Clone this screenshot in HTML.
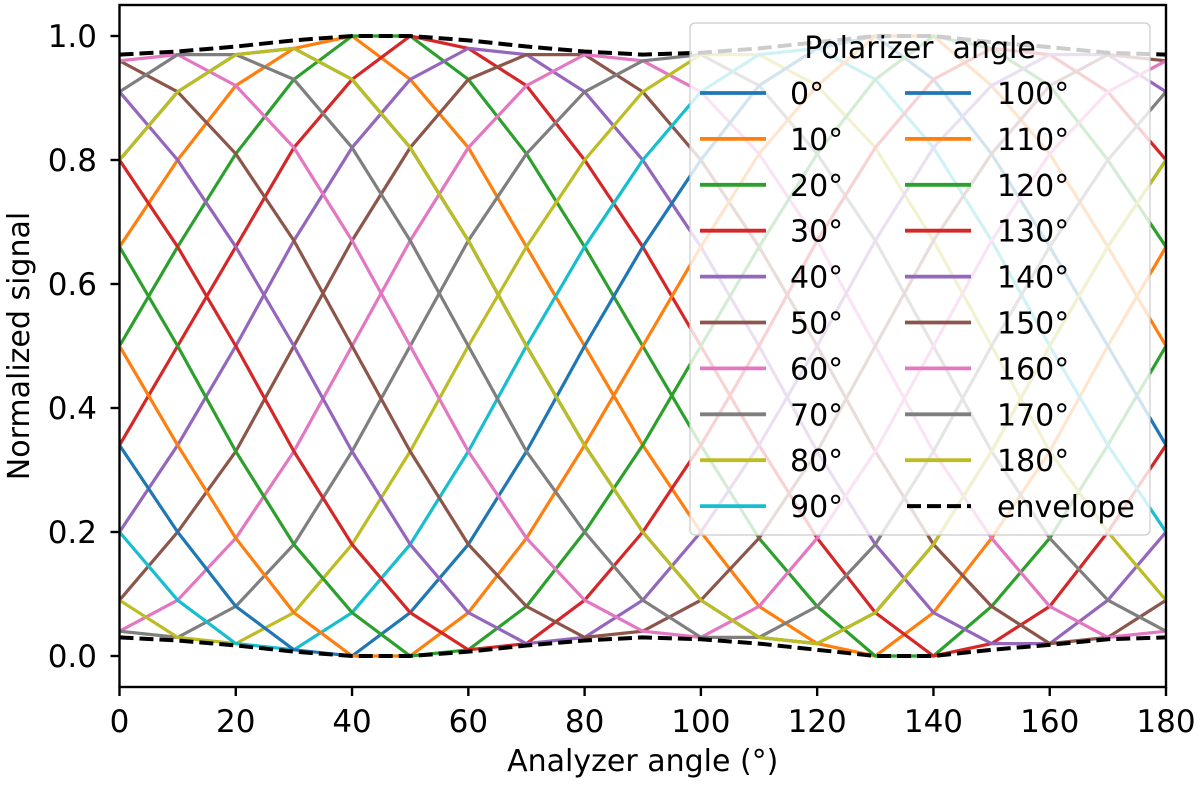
<!DOCTYPE html>
<html><head><meta charset="utf-8"><style>
html,body{margin:0;padding:0;background:#fff;}
svg{display:block;font-family:"DejaVu Sans","Liberation Sans",sans-serif;}
</style></head><body>
<svg id="chart" width="1200" height="787" viewBox="0 0 1200 787" xmlns="http://www.w3.org/2000/svg"></svg>
<script>
const analyzerAngles=[0,10,20,30,40,50,60,70,80,90,100,110,120,130,140,150,160,170,180];
const polarizerLabels=["0°","10°","20°","30°","40°","50°","60°","70°","80°","90°","100°","110°","120°","130°","140°","150°","160°","170°","180°"];
const s0=[.80,.91,.97,.98,.93,.82,.67,.50,.34,.20,.09,.03,.02,.07,.18,.33,.50,.66,.80];
const s10=[.66,.80,.92,.98,1.0,.93,.82,.66,.50,.34,.20,.08,.02,0,.07,.19,.33,.50,.66];
const s20=[.50,.66,.81,.93,1.0,1.0,.93,.81,.66,.50,.34,.19,.08,0,0,.08,.19,.34,.50];
const s30=[.34,.50,.66,.82,.93,1.0,.98,.92,.80,.66,.50,.34,.19,.07,0,.02,.08,.20,.34];
const s40=[.20,.34,.50,.67,.82,.93,.98,.97,.91,.80,.66,.50,.33,.18,.07,.02,.02,.09,.20];
const s50=[.09,.20,.33,.50,.67,.82,.93,.97,.97,.91,.80,.66,.50,.33,.18,.08,.02,.03,.09];
const s60=[.04,.09,.19,.33,.50,.67,.82,.92,.97,.96,.91,.81,.67,.50,.33,.19,.08,.03,.04];
const s70=[.04,.03,.08,.18,.33,.50,.67,.81,.91,.96,.97,.92,.81,.67,.50,.33,.19,.09,.04];
const s80=[.09,.03,.02,.07,.18,.33,.50,.66,.80,.91,.97,.97,.92,.82,.67,.50,.33,.20,.09];
const s90=[.20,.09,.02,.01,.07,.18,.33,.50,.66,.80,.91,.97,.98,.93,.82,.67,.50,.34,.20];
const s100=[.34,.20,.08,.01,0,.07,.18,.33,.50,.66,.80,.92,.98,1.0,.93,.81,.66,.50,.34];
const s110=[.50,.34,.19,.07,0,0,.07,.19,.34,.50,.66,.81,.92,1.0,1.0,.92,.81,.66,.50];
const s120=[.66,.50,.33,.18,.07,0,.01,.08,.20,.34,.50,.66,.81,.93,1.0,.98,.92,.80,.66];
const s130=[.80,.66,.50,.33,.18,.07,.01,.02,.09,.20,.34,.50,.67,.82,.93,.98,.97,.91,.80];
const s140=[.91,.80,.66,.50,.33,.18,.07,.02,.03,.09,.20,.34,.50,.67,.82,.92,.97,.97,.91];
const s150=[.96,.91,.81,.67,.50,.33,.18,.08,.03,.04,.09,.19,.33,.50,.67,.81,.92,.97,.96];
const s160=[.96,.97,.92,.82,.67,.50,.33,.19,.09,.04,.03,.08,.19,.33,.50,.67,.81,.91,.96];
const s170=[.91,.97,.97,.93,.82,.67,.50,.33,.20,.09,.03,.03,.08,.18,.33,.50,.66,.80,.91];
const s180=[.80,.91,.97,.98,.93,.82,.67,.50,.34,.20,.09,.03,.02,.07,.18,.33,.50,.66,.80];
const envelopeUpper=[.97,.975,.983,.993,1,1,.993,.983,.975,.97,.973,.98,.99,1,1,.99,.982,.973,.97];
const envelopeLower=[.03,.025,.017,.007,0,0,.007,.017,.025,.03,.027,.02,.01,0,0,.01,.018,.027,.03];
const xTicks=[0,20,40,60,80,100,120,140,160,180];
const yTicks=[0,0.2,0.4,0.6,0.8,1.0];
const yTickLabels=["0.0","0.2","0.4","0.6","0.8","1.0"];

const series=[s0,s10,s20,s30,s40,s50,s60,s70,s80,s90,s100,s110,s120,s130,s140,s150,s160,s170,s180];
const colors=["#1f77b4","#ff7f0e","#2ca02c","#d62728","#9467bd","#8c564b","#e377c2","#7f7f7f","#bcbd22","#17becf"];
const L=119.5,R=1166,T=5,B=687;
const xMin=0,xMax=180,yMin=-0.05,yMax=1.05;
function sx(v){return L+(v-xMin)/(xMax-xMin)*(R-L);}
function sy(v){return B-(v-yMin)/(yMax-yMin)*(B-T);}
const NS="http://www.w3.org/2000/svg";
const svg=document.getElementById('chart');
function mk(tag,attrs,parent){const e=document.createElementNS(NS,tag);for(const k in attrs)e.setAttribute(k,attrs[k]);(parent||svg).appendChild(e);return e;}

const clip=mk('clipPath',{id:'plotclip'});
mk('rect',{x:L,y:T,width:R-L,height:B-T},clip);

const gSeries=mk('g',{'clip-path':'url(#plotclip)'});


series.forEach((arr,j)=>{
  const pts=arr.map((v,i)=>sx(analyzerAngles[i]).toFixed(2)+','+sy(v).toFixed(2)).join(' ');
  const pl=mk('polyline',{points:pts,fill:'none',stroke:colors[j%10],'stroke-width':3.2,'stroke-linejoin':'round'},gSeries);
  
  
});
[envelopeUpper,envelopeLower].forEach((arr,k)=>{
  const pts=arr.map((v,i)=>sx(analyzerAngles[i]).toFixed(2)+','+sy(v).toFixed(2)).join(' ');
  const pl=mk('polyline',{points:pts,fill:'none',stroke:'#000','stroke-width':4,'stroke-dasharray':'14,6'},gSeries);
  
  
});

const frame=mk('rect',{x:L,y:T,width:R-L,height:B-T,fill:'none',stroke:'#000','stroke-width':2.4});



xTicks.forEach(v=>{
  const x=sx(v);
  const t=mk('line',{x1:x,y1:B,x2:x,y2:B+9,stroke:'#000','stroke-width':2.4});
  
  
  const tx=mk('text',{x:x,y:732,'text-anchor':'middle','font-size':31,fill:'#000'});
  tx.textContent=String(v);
  
  
});
yTicks.forEach((v,i)=>{
  const y=sy(v);
  const t=mk('line',{x1:L-9,y1:y,x2:L,y2:y,stroke:'#000','stroke-width':2.4});
  
  
  const tx=mk('text',{x:97,y:y+11,'text-anchor':'end','font-size':31,fill:'#000'});
  tx.textContent=yTickLabels[i];
  
  
});
const xl=mk('text',{x:(L+R)/2,y:771,'text-anchor':'middle','font-size':30,fill:'#000'});
xl.textContent='Analyzer angle (°)';


const yl=mk('text',{x:0,y:0,'text-anchor':'middle','font-size':30,fill:'#000',transform:'translate(29,'+((T+B)/2)+') rotate(-90)'});
yl.textContent='Normalized signal';



const lg=mk('g',{});


mk('rect',{x:690,y:23,width:460,height:512,rx:5,fill:'#fff','fill-opacity':0.8,stroke:'#ccc','stroke-width':1.2},lg);
const lt=mk('text',{x:920,y:58,'text-anchor':'middle','font-size':30,fill:'#000',style:'white-space:pre'},lg);
lt.textContent='Polarizer  angle';


const labels=polarizerLabels.concat(['envelope']);
labels.forEach((lab,k)=>{
  const col=k<10?0:1, row=k%10;
  const y=93+row*45.9;
  const x0=col?905:700;
  const e=mk('g',{},lg);
  
  
  if(k<19){
    mk('line',{x1:x0,y1:y,x2:x0+66,y2:y,stroke:colors[k%10],'stroke-width':3.8},e);
  } else {
    mk('line',{x1:x0+2,y1:y,x2:x0+66,y2:y,stroke:'#000','stroke-width':4,'stroke-dasharray':'14,6'},e);
  }
  const t=mk('text',{x:col?997:790,y:y+11,'font-size':30,fill:'#000'},e);
  t.textContent=lab;
});
</script>
</body></html>
